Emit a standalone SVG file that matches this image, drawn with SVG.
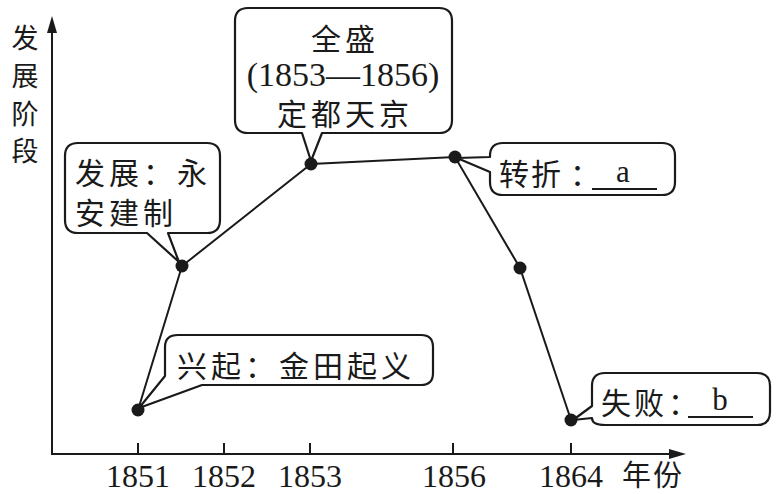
<svg xmlns="http://www.w3.org/2000/svg" width="777" height="494" viewBox="0 0 777 494">
<style>
.cn{font-family:"Noto Sans CJK SC","Noto Sans",sans-serif;font-size:30px;fill:#1a1a1a}
.num{font-family:"Liberation Serif","Times New Roman",serif;font-size:32px;fill:#1a1a1a}
.ax{stroke:#1a1a1a;stroke-width:2;fill:none}
.bub{stroke:#1a1a1a;stroke-width:2.2;fill:#fff;stroke-linejoin:round}
.ln{stroke:#1a1a1a;stroke-width:2;fill:none}
.dot{fill:#1a1a1a}
</style>
<rect width="777" height="494" fill="#fff"/>
<g id="axes">
<line class="ax" x1="52" y1="455" x2="52" y2="28"/>
<polygon points="52,16 47,33 57,33" fill="#1a1a1a"/>
<line class="ax" x1="52" y1="454" x2="672" y2="454"/>
<polygon points="686,454 669,449 669,459" fill="#1a1a1a"/>
<g class="ax">
<line x1="138" y1="443" x2="138" y2="454"/>
<line x1="224" y1="443" x2="224" y2="454"/>
<line x1="310" y1="443" x2="310" y2="454"/>
<line x1="453" y1="443" x2="453" y2="454"/>
<line x1="571" y1="443" x2="571" y2="454"/>
</g>
<g class="num" text-anchor="middle">
<text x="138" y="487">1851</text>
<text x="224" y="487">1852</text>
<text x="310" y="487">1853</text>
<text x="454" y="487">1856</text>
<text x="571" y="487">1864</text>
</g>
<text class="cn" x="622" y="486" letter-spacing="2" style="font-size:29px">年份</text>
<g class="cn" text-anchor="middle" style="font-size:27px">
<text x="25" y="48">发</text>
<text x="25" y="86">展</text>
<text x="25" y="124">阶</text>
<text x="25" y="161">段</text>
</g>
</g>
<g id="connectors">
<polyline class="ln" points="138,410 182,266 311,164 455,157 520,268 571,420"/>
</g>
<g id="n1">
<path class="bub" d="M178 335 H421 Q433 335 433 347 V373 Q433 385 421 385 H202 L139 408 L165 376 V347 Q165 335 178 335 Z"/>
<text class="cn" x="177" y="377" letter-spacing="4">兴起：金田起义</text>
<circle class="dot" cx="138" cy="410" r="6.5"/>
</g>
<g id="n2">
<path class="bub" d="M78 143 H207 Q220 143 220 156 V220 Q220 233 207 233 H168 L179 262 L147 233 H78 Q65 233 65 220 V156 Q65 143 78 143 Z"/>
<text class="cn" x="75" y="184" letter-spacing="4">发展：永</text>
<text class="cn" x="75" y="224" letter-spacing="4">安建制</text>
<circle class="dot" cx="182" cy="266" r="6.5"/>
</g>
<g id="n3">
<path class="bub" d="M248 8 H439 Q452 8 452 21 V120 Q452 133 439 133 H322 L311 161 L302 133 H248 Q235 133 235 120 V21 Q235 8 248 8 Z"/>
<text class="cn" x="345" y="50" text-anchor="middle" letter-spacing="4">全盛</text>
<text class="num" x="343" y="86" text-anchor="middle" style="font-size:34px">(1853—1856)</text>
<text class="cn" x="345" y="125" text-anchor="middle" letter-spacing="4">定都天京</text>
<circle class="dot" cx="311" cy="164" r="6.5"/>
</g>
<g id="n4">
<path class="bub" d="M503 143 H662 Q675 143 675 156 V182 Q675 195 662 195 H503 Q490 195 490 182 V172 L457 158 L490 157 V156 Q490 143 503 143 Z"/>
<text class="cn" x="499" y="185" letter-spacing="2">转折</text>
<text class="cn" x="570" y="185">：</text>
<line class="ln" x1="592" y1="189" x2="657" y2="189"/>
<text class="num" x="623" y="182" text-anchor="middle" style="font-size:31px">a</text>
<circle class="dot" cx="455" cy="157" r="6.5"/>
</g>
<g id="n5">
<circle class="dot" cx="520" cy="268" r="6.5"/>
</g>
<g id="n6">
<path class="bub" d="M605 373 H757 Q770 373 770 386 V412 Q770 425 757 425 H605 Q592 425 592 418 L573 420 L592 406 V386 Q592 373 605 373 Z"/>
<text class="cn" x="601" y="414" letter-spacing="3">失败</text>
<text class="cn" x="668" y="414">：</text>
<line class="ln" x1="688" y1="417" x2="753" y2="417"/>
<text class="num" x="720" y="410" text-anchor="middle" style="font-size:31px">b</text>
<circle class="dot" cx="571" cy="420" r="6.5"/>
</g>
</svg>
